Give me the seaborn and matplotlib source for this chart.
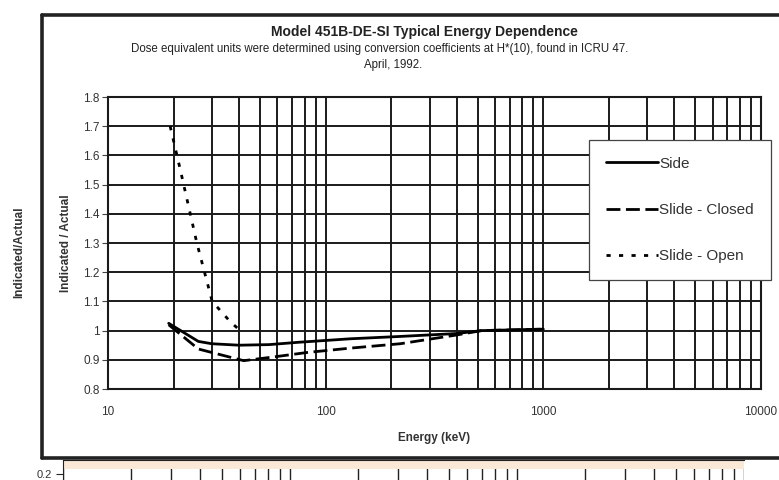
import matplotlib
matplotlib.use("Agg")
import matplotlib.pyplot as plt
from matplotlib.lines import Line2D
import pandas as pd
import seaborn as sns

# values
side_e = [19, 26, 30, 40, 55, 75, 130, 220, 400, 520, 1000]
side_r = [1.025, 0.963, 0.955, 0.95, 0.952, 0.96, 0.972, 0.98, 0.99, 1.0, 1.005]
closed_e = [19, 26, 30, 42, 58, 82, 130, 220, 400, 520, 1000]
closed_r = [1.02, 0.937, 0.925, 0.897, 0.91, 0.925, 0.94, 0.955, 0.985, 1.0, 1.005]
open_e = [19.3, 21.5, 25.6, 30.1, 36.5, 39.8]
open_r = [1.70, 1.55, 1.30, 1.10, 1.03, 1.005]

series_names = ["Side", "Slide - Closed", "Slide - Open"]
y_ticks = [0.8, 0.9, 1.0, 1.1, 1.2, 1.3, 1.4, 1.5, 1.6, 1.7, 1.8]
y_labels = ["0.8", "0.9", "1", "1.1", "1.2", "1.3", "1.4", "1.5", "1.6", "1.7", "1.8"]
x_ticks = [10, 100, 1000, 10000]
x_labels = ["10", "100", "1000", "10000"]

df = pd.concat([
    pd.DataFrame({"energy": side_e, "ratio": side_r, "series": series_names[0]}),
    pd.DataFrame({"energy": closed_e, "ratio": closed_r, "series": series_names[1]}),
    pd.DataFrame({"energy": open_e, "ratio": open_r, "series": series_names[2]}),
])

sns.set_style("white")
plt.rcParams["font.family"] = ["Liberation Sans", "DejaVu Sans"]

W, H = 779, 480
fig = plt.figure(figsize=(W / 100, H / 100), dpi=100)

# outer frame of the scanned page
frame_kw = dict(color="#222222", lw=2.6, transform=fig.transFigure)
fig.add_artist(Line2D([42 / W, 1.0], [1 - 15 / H, 1 - 15 / H], **frame_kw))
fig.add_artist(Line2D([42 / W, 42 / W], [1 - 15 / H, 1 - 458 / H], **frame_kw))
fig.add_artist(Line2D([42 / W, 1.0], [1 - 458 / H, 1 - 458 / H], **frame_kw))

ax = fig.add_axes([108 / W, 1 - 389 / H, (761 - 108) / W, (389 - 97) / H])
dashes = {"Side": "", "Slide - Closed": (5, 2), "Slide - Open": (1.5, 3)}
sns.lineplot(data=df, x="energy", y="ratio", style="series", dashes=dashes,
             color="black", linewidth=2.0, sort=False, estimator=None,
             ax=ax, legend=False)

ax.set_xscale("log")
ax.set_xlim(10, 10000)
ax.set_ylim(0.8, 1.8)
ax.set_xticks(x_ticks)
ax.set_xticklabels(x_labels)
ax.set_yticks(y_ticks)
ax.set_yticklabels(y_labels)
ax.xaxis.set_minor_locator(matplotlib.ticker.LogLocator(base=10, subs=range(2, 10)))
ax.xaxis.set_minor_formatter(matplotlib.ticker.NullFormatter())
ax.grid(True, which="both", axis="x", color="#1a1a1a", lw=1.4)
ax.grid(True, which="major", axis="y", color="#1a1a1a", lw=1.4)
ax.tick_params(axis="y", which="major", length=4, width=0.8, color="#444444",
               labelsize=8.5, labelcolor="#333333", pad=2, left=True)
ax.tick_params(axis="x", which="both", length=0, labelsize=8.5,
               labelcolor="#333333", pad=12)
for s in ax.spines.values():
    s.set_color("#1a1a1a")
    s.set_linewidth(1.5)
ax.set_xlabel("Energy (keV)", fontsize=8.5, fontweight="bold", color="#333333", labelpad=10)
ax.set_ylabel("Indicated / Actual", fontsize=8.5, fontweight="bold", color="#333333", labelpad=8)

handles = [
    Line2D([], [], color="black", lw=2.0, ls="-"),
    Line2D([], [], color="black", lw=2.0, dashes=(5, 2)),
    Line2D([], [], color="black", lw=2.0, dashes=(1.5, 3)),
]
leg = fig.legend(handles, series_names, loc="upper left",
                 bbox_to_anchor=(589 / W, 1 - 140 / H), fontsize=11,
                 frameon=True, fancybox=False, framealpha=1, handlelength=3.4,
                 handletextpad=0.1, labelspacing=2.1, borderpad=1.1,
                 borderaxespad=0)
leg.get_frame().set_edgecolor("#444444")
leg.get_frame().set_linewidth(0.9)
leg.get_frame().set_facecolor("white")
for t in leg.get_texts():
    t.set_color("#333333")

fig.text(424 / W, 1 - 32 / H, "Model 451B-DE-SI Typical Energy Dependence",
         ha="center", va="center", fontsize=10, fontweight="bold", color="#222222")
fig.text(380 / W, 1 - 49 / H,
         "Dose equivalent units were determined using conversion coefficients at H*(10), found in ICRU 47.",
         ha="center", va="center", fontsize=8.3, color="#222222")
fig.text(393 / W, 1 - 65 / H, "April, 1992.", ha="center", va="center",
         fontsize=8.3, color="#222222")
fig.text(19 / W, 1 - 252 / H, "Indicated/Actual", rotation=90, ha="center",
         va="center", fontsize=8.5, fontweight="bold", color="#333333")

# top strip of the next chart on the scanned page
ax2 = fig.add_axes([63 / W, 0, (744 - 63) / W, 20 / H])
ax2.set_xscale("log")
ax2.set_xlim(10, 10000)
ax2.set_ylim(0.14, 0.34)
ax2.axhspan(0.25, 0.34, color="#fbe9d8", lw=0)
ax2.xaxis.set_minor_locator(matplotlib.ticker.LogLocator(base=10, subs=range(2, 10)))
ax2.grid(True, which="both", axis="x", color="#222222", lw=1.0)
ax2.set_xticks(x_ticks)
ax2.set_xticklabels([])
ax2.xaxis.set_minor_formatter(matplotlib.ticker.NullFormatter())
ax2.set_yticks([0.2])
ax2.set_yticklabels(["0.2"])
ax2.tick_params(axis="y", length=5, width=0.8, labelsize=8, labelcolor="#333333", pad=3, left=True)
ax2.tick_params(axis="x", which="both", length=0)
for k, s in ax2.spines.items():
    s.set_visible(k in ("left", "top"))
    s.set_color("#222222")
ax2.spines["top"].set_linewidth(0.8)

fig.savefig("out.png", dpi=100)
